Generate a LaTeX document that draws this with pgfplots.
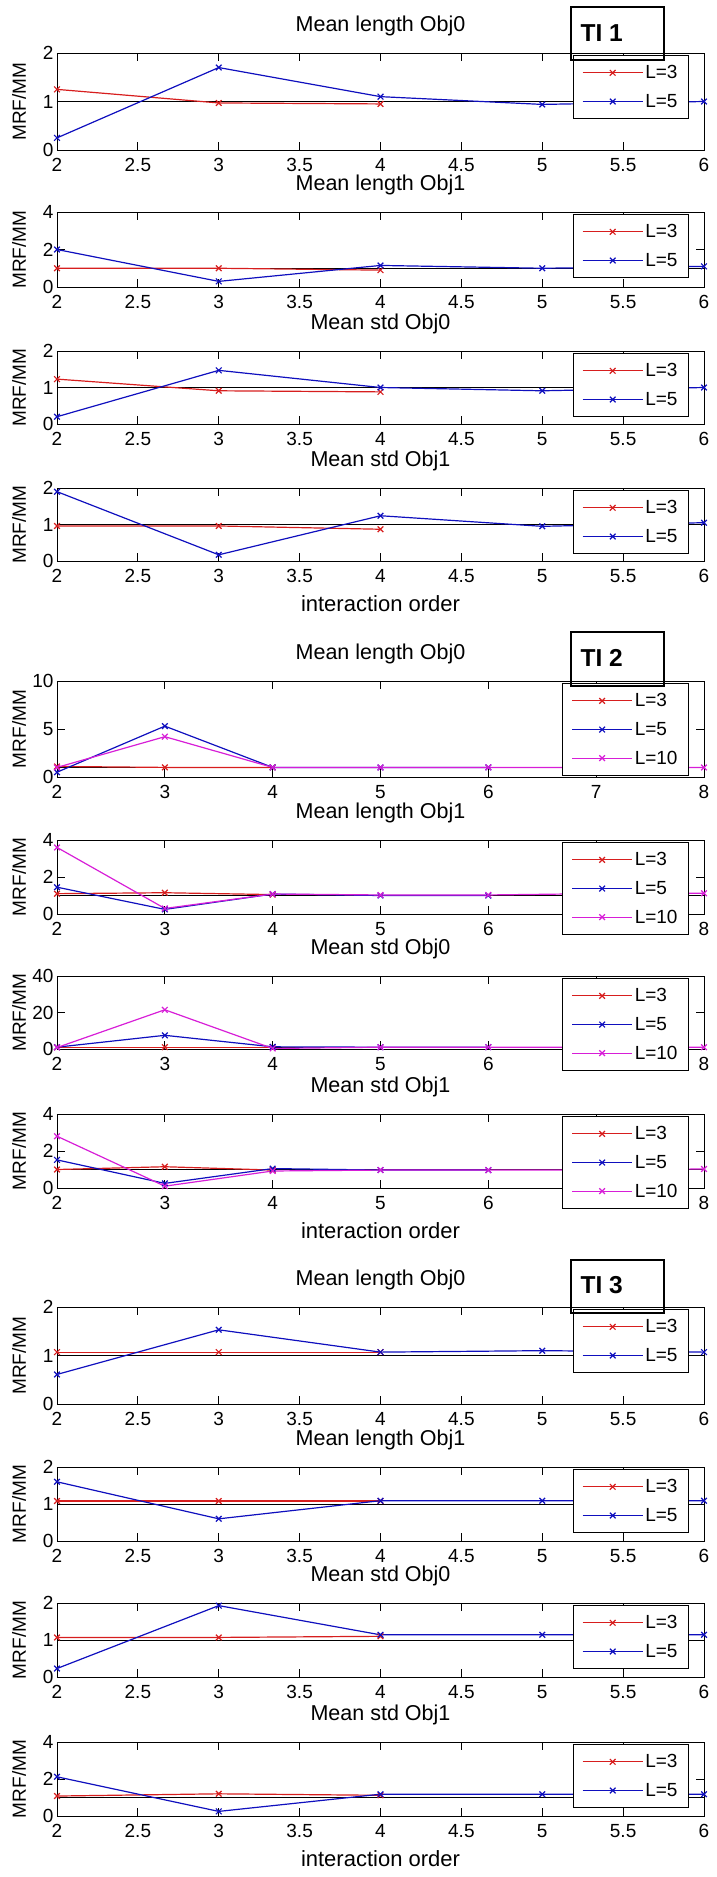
\documentclass[border=0pt]{standalone}
\usepackage{fontspec}
\setmainfont{Liberation Sans}
\usepackage{pgfplots}
\pgfplotsset{compat=1.18}
\definecolor{mred}{RGB}{215,30,30}
\definecolor{mblue}{RGB}{15,15,190}
\definecolor{mmag}{RGB}{215,30,215}
\pgfplotsset{
  mstyle/.style={
    scale only axis, width=647pt, anchor=north west,
    axis line style={line width=0.9pt},
    tick align=inside, major tick length=8pt,
    every tick/.style={black, line width=0.9pt},
    xmin=2, ymin=0,
    title style={at={(0.5,1)}, anchor=base, yshift=16pt, font=\fontsize{21.5}{26}\selectfont},
    tick label style={font=\fontsize{19}{22}\selectfont},
    xticklabel style={yshift=-5pt},
    /pgf/number format/assume math mode=true,
    ylabel={MRF/MM},
    ylabel style={at={(axis description cs:-0.0587,0.5)}, anchor=center, font=\fontsize{19}{22}\selectfont},
    xlabel style={at={(axis description cs:0.5,0)}, anchor=base, yshift=-50pt, font=\fontsize{22}{26}\selectfont},
    legend style={at={(1,1)}, xshift=-15pt, yshift=-2pt, anchor=north east, draw=black, line width=0.9pt, fill=white,
      font=\fontsize{19}{22}\selectfont, row sep=10pt, inner xsep=9pt, inner ysep=8pt},
    legend cell align=left,
    legend image code/.code={\draw[mark repeat=2,mark phase=2,##1] plot coordinates {(0pt,0pt) (30pt,0pt) (60pt,0pt)};},
  },
  rs/.style={mred, line width=1.2pt, mark=x, mark size=4pt, mark options={solid}},
  bs/.style={mblue, line width=1.2pt, mark=x, mark size=4pt, mark options={solid}},
  ms/.style={mmag, line width=1.2pt, mark=x, mark size=4pt, mark options={solid}},
  ref/.style={black, line width=0.9pt, forget plot},
}
\begin{document}
\begin{tikzpicture}
\useasboundingbox (0pt,0pt) rectangle (716pt,-1877pt);
% ================= TI 1 =================
\begin{axis}[mstyle, at={(57pt,-53pt)}, height=97pt, xmax=6, ymax=2, ytick={0,1,2},
  xtick={2,2.5,...,6}, title={Mean length Obj0}]
\addplot[ref] coordinates {(2,1) (6,1)};
\addplot[rs] coordinates {(2,1.25) (3,0.97) (4,0.95)};
\addplot[bs] coordinates {(2,0.25) (3,1.70) (4,1.10) (5,0.94) (6,1.0)};
\legend{L=3,L=5}
\end{axis}
\begin{axis}[mstyle, at={(57pt,-212pt)}, height=75pt, xmax=6, ymax=4, ytick={0,2,4},
  xtick={2,2.5,...,6}, title={Mean length Obj1}]
\addplot[ref] coordinates {(2,1) (6,1)};
\addplot[rs] coordinates {(2,1.0) (3,1.0) (4,0.9)};
\addplot[bs] coordinates {(2,2.0) (3,0.3) (4,1.15) (5,1.0) (6,1.1)};
\legend{L=3,L=5}
\end{axis}
\begin{axis}[mstyle, at={(57pt,-351pt)}, height=73pt, xmax=6, ymax=2, ytick={0,1,2},
  xtick={2,2.5,...,6}, title={Mean std Obj0}]
\addplot[ref] coordinates {(2,1) (6,1)};
\addplot[rs] coordinates {(2,1.23) (3,0.91) (4,0.88)};
\addplot[bs] coordinates {(2,0.2) (3,1.47) (4,1.0) (5,0.91) (6,1.0)};
\legend{L=3,L=5}
\end{axis}
\begin{axis}[mstyle, at={(57pt,-488pt)}, height=73pt, xmax=6, ymax=2, ytick={0,1,2},
  xtick={2,2.5,...,6}, title={Mean std Obj1}, xlabel={interaction order}]
\addplot[ref] coordinates {(2,1) (6,1)};
\addplot[rs] coordinates {(2,0.96) (3,0.96) (4,0.87)};
\addplot[bs] coordinates {(2,1.9) (3,0.17) (4,1.24) (5,0.95) (6,1.05)};
\legend{L=3,L=5}
\end{axis}
% ================= TI 2 =================
\begin{axis}[mstyle, at={(57pt,-681pt)}, height=96pt, xmax=8, ymax=10, ytick={0,5,10},
  xtick={2,...,8}, title={Mean length Obj0}]
\addplot[ref] coordinates {(2,1) (8,1)};
\addplot[rs] coordinates {(2,1.1) (3,1.0) (4,1.0)};
\addplot[bs] coordinates {(2,0.5) (3,5.3) (4,1.0) (5,1.0) (6,1.0)};
\addplot[ms] coordinates {(2,1.0) (3,4.2) (4,1.0) (5,1.0) (6,1.0) (7,1.0) (8,1.0)};
\legend{L=3,L=5,L=10}
\end{axis}
\begin{axis}[mstyle, at={(57pt,-840pt)}, height=74pt, xmax=8, ymax=4, ytick={0,2,4},
  xtick={2,...,8}, title={Mean length Obj1}]
\addplot[ref] coordinates {(2,1) (8,1)};
\addplot[rs] coordinates {(2,1.1) (3,1.15) (4,1.05)};
\addplot[bs] coordinates {(2,1.45) (3,0.25) (4,1.08) (5,1.0) (6,1.0)};
\addplot[ms] coordinates {(2,3.6) (3,0.3) (4,1.08) (5,1.03) (6,1.03) (7,1.1) (8,1.12)};
\legend{L=3,L=5,L=10}
\end{axis}
\begin{axis}[mstyle, at={(57pt,-976pt)}, height=73pt, xmax=8, ymax=40, ytick={0,20,40},
  xtick={2,...,8}, title={Mean std Obj0}]
\addplot[ref] coordinates {(2,1) (8,1)};
\addplot[rs] coordinates {(2,1.0) (3,1.0) (4,1.0)};
\addplot[bs] coordinates {(2,1.0) (3,7.5) (4,1.2) (5,1.0) (6,1.0)};
\addplot[ms] coordinates {(2,0.8) (3,21.5) (4,0.3) (5,1.0) (6,1.0) (7,1.0) (8,1.0)};
\legend{L=3,L=5,L=10}
\end{axis}
\begin{axis}[mstyle, at={(57pt,-1114pt)}, height=74pt, xmax=8, ymax=4, ytick={0,2,4},
  xtick={2,...,8}, title={Mean std Obj1}, xlabel={interaction order}]
\addplot[ref] coordinates {(2,1) (8,1)};
\addplot[rs] coordinates {(2,1.0) (3,1.15) (4,0.97)};
\addplot[bs] coordinates {(2,1.52) (3,0.25) (4,1.05) (5,0.97) (6,0.97)};
\addplot[ms] coordinates {(2,2.8) (3,0.1) (4,0.92) (5,0.97) (6,0.97) (7,0.97) (8,1.03)};
\legend{L=3,L=5,L=10}
\end{axis}
% ================= TI 3 =================
\begin{axis}[mstyle, at={(57pt,-1307pt)}, height=97pt, xmax=6, ymax=2, ytick={0,1,2},
  xtick={2,2.5,...,6}, title={Mean length Obj0}]
\addplot[ref] coordinates {(2,1) (6,1)};
\addplot[rs] coordinates {(2,1.07) (3,1.07) (4,1.07)};
\addplot[bs] coordinates {(2,0.61) (3,1.53) (4,1.07) (5,1.1) (6,1.07)};
\legend{L=3,L=5}
\end{axis}
\begin{axis}[mstyle, at={(57pt,-1467pt)}, height=74pt, xmax=6, ymax=2, ytick={0,1,2},
  xtick={2,2.5,...,6}, title={Mean length Obj1}]
\addplot[ref] coordinates {(2,1) (6,1)};
\addplot[rs] coordinates {(2,1.08) (3,1.08) (4,1.08)};
\addplot[bs] coordinates {(2,1.6) (3,0.6) (4,1.09) (5,1.09) (6,1.09)};
\legend{L=3,L=5}
\end{axis}
\begin{axis}[mstyle, at={(57pt,-1603pt)}, height=74pt, xmax=6, ymax=2, ytick={0,1,2},
  xtick={2,2.5,...,6}, title={Mean std Obj0}]
\addplot[ref] coordinates {(2,1) (6,1)};
\addplot[rs] coordinates {(2,1.07) (3,1.07) (4,1.1)};
\addplot[bs] coordinates {(2,0.23) (3,1.93) (4,1.14) (5,1.14) (6,1.14)};
\legend{L=3,L=5}
\end{axis}
\begin{axis}[mstyle, at={(57pt,-1742pt)}, height=74pt, xmax=6, ymax=4, ytick={0,2,4},
  xtick={2,2.5,...,6}, title={Mean std Obj1}, xlabel={interaction order}]
\addplot[ref] coordinates {(2,1) (6,1)};
\addplot[rs] coordinates {(2,1.08) (3,1.2) (4,1.12)};
\addplot[bs] coordinates {(2,2.12) (3,0.25) (4,1.18) (5,1.18) (6,1.18)};
\legend{L=3,L=5}
\end{axis}
% ================= TI boxes =================
\draw[line width=2pt] (571pt,-7pt) rectangle (664pt,-60pt);
\node[anchor=west, font=\fontsize{24.5}{28}\selectfont\bfseries] at (577pt,-33pt) {TI 1};
\draw[line width=2pt] (571pt,-632pt) rectangle (664pt,-686pt);
\node[anchor=west, font=\fontsize{24.5}{28}\selectfont\bfseries] at (577pt,-658pt) {TI 2};
\draw[line width=2pt] (571pt,-1260pt) rectangle (664pt,-1313pt);
\node[anchor=west, font=\fontsize{24.5}{28}\selectfont\bfseries] at (577pt,-1285pt) {TI 3};
\end{tikzpicture}
\end{document}
